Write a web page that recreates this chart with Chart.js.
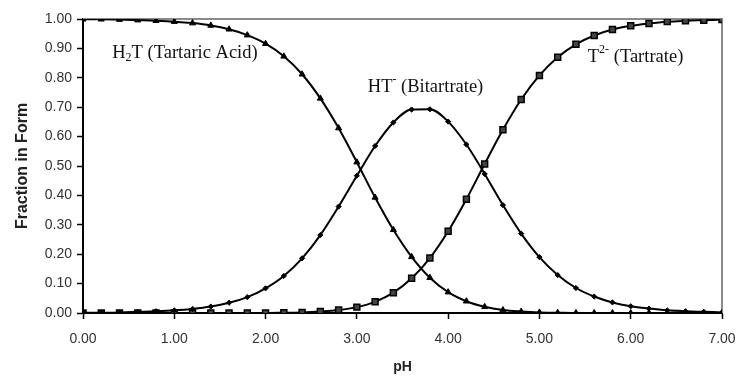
<!DOCTYPE html>
<html>
<head>
<meta charset="utf-8">
<script src="https://cdn.jsdelivr.net/npm/chart.js@4.4.0/dist/chart.umd.min.js"></script>
<style>
  html, body { margin: 0; padding: 0; background: #fff; }
  #wrap { width: 736px; height: 376px; }
</style>
</head>
<body>
<div id="wrap"><canvas id="c" width="736" height="376"></canvas></div>
<script>
// pH values (x)
const pH = [0.0,0.2,0.4,0.6,0.8,1.0,1.2,1.4,1.6,1.8,2.0,2.2,2.4,2.6,2.8,3.0,3.2,3.4,3.6,3.8,4.0,4.2,4.4,4.6,4.8,5.0,5.2,5.4,5.6,5.8,6.0,6.2,6.4,6.6,6.8,7.0];
// Fraction of H2T (tartaric acid)
const h2t = [0.999,0.999,0.998,0.996,0.994,0.991,0.986,0.978,0.965,0.945,0.916,0.873,0.812,0.730,0.629,0.513,0.393,0.283,0.191,0.120,0.071,0.040,0.021,0.010,0.005,0.002,0.001,0.000,0.000,0.000,0.000,0.000,0.000,0.000,0.000,0.000];
// Fraction of HT- (bitartrate)
const htm = [0.001,0.001,0.002,0.004,0.006,0.009,0.014,0.022,0.035,0.054,0.084,0.126,0.186,0.265,0.362,0.467,0.568,0.648,0.692,0.693,0.651,0.573,0.473,0.367,0.270,0.190,0.129,0.085,0.056,0.036,0.023,0.015,0.009,0.006,0.004,0.002];
// Fraction of T2- (tartrate)
const t2m = [0.000,0.000,0.000,0.000,0.000,0.000,0.000,0.000,0.000,0.000,0.000,0.001,0.002,0.005,0.010,0.020,0.038,0.069,0.118,0.187,0.278,0.387,0.507,0.623,0.726,0.808,0.870,0.914,0.944,0.964,0.977,0.985,0.991,0.994,0.996,0.998];

// Annotation texts: main part, sub/superscript, rest
const labelParts = [
  { a: "H", s: "2", b: "T (Tartaric Acid)", sub: true },
  { a: "HT", s: "-", b: " (Bitartrate)", sub: false },
  { a: "T", s: "2-", b: " (Tartrate)", sub: false }
];
const labelAnchors = [ [0.32, 0.885], [3.12, 0.769], [5.53, 0.871] ];

function pts(ys) { return pH.map((x, i) => ({ x: x, y: ys[i] })); }

const annotPlugin = {
  id: 'annot',
  afterDatasetsDraw(chart) {
    const ctx = chart.ctx;
    const xs = chart.scales.x, ys = chart.scales.y;
    const big = '18.5px "Liberation Serif", "Times New Roman", serif';
    const small = '12px "Liberation Serif", "Times New Roman", serif';
    ctx.save();
    ctx.fillStyle = '#111';
    ctx.textBaseline = 'middle';
    ctx.textAlign = 'left';
    labelParts.forEach((p, i) => {
      let x = xs.getPixelForValue(labelAnchors[i][0]);
      const y = ys.getPixelForValue(labelAnchors[i][1]);
      ctx.font = big;
      ctx.fillText(p.a, x, y);
      x += ctx.measureText(p.a).width;
      ctx.font = small;
      ctx.fillText(p.s, x, p.sub ? y + 5 : y - 7);
      x += ctx.measureText(p.s).width;
      ctx.font = big;
      ctx.fillText(p.b, x, y);
    });
    ctx.restore();
  }
};

const framePlugin = {
  id: 'frame',
  beforeDatasetsDraw(chart) {
    const a = chart.chartArea, ctx = chart.ctx;
    ctx.save();
    ctx.strokeStyle = '#8a8a8a';
    ctx.lineWidth = 2;
    ctx.beginPath();
    ctx.moveTo(a.left, a.top);
    ctx.lineTo(a.right, a.top);
    ctx.lineTo(a.right, a.bottom);
    ctx.stroke();
    ctx.restore();
  }
};

new Chart(document.getElementById('c'), {
  type: 'line',
  data: {
    datasets: [
      { label: 'H2T', data: pts(h2t), borderColor: '#000', backgroundColor: '#000', borderWidth: 2,
        pointStyle: 'triangle', pointRadius: 3.5, pointBorderWidth: 1, cubicInterpolationMode: 'monotone' },
      { label: 'HT-', data: pts(htm), borderColor: '#000', backgroundColor: '#000', borderWidth: 2,
        pointStyle: 'rectRot', pointRadius: 2.6, pointBorderWidth: 1, cubicInterpolationMode: 'monotone' },
      { label: 'T2-', data: pts(t2m), borderColor: '#000', backgroundColor: '#444', borderWidth: 2,
        pointStyle: 'rect', pointRadius: 4.2, pointBorderWidth: 1.5, cubicInterpolationMode: 'monotone' }
    ]
  },
  options: {
    responsive: false,
    animation: false,
    devicePixelRatio: 1,
    layout: { padding: { left: 0, right: 14, top: 19, bottom: 0 } },
    plugins: { legend: { display: false }, tooltip: { enabled: false } },
    scales: {
      x: {
        type: 'linear', min: 0, max: 7,
        afterFit(s) { s.height = 63; s.paddingLeft = 0; s.paddingRight = 0; },
        border: { color: '#000', width: 2 },
        grid: { drawOnChartArea: false, color: '#000', tickLength: 6, tickWidth: 1.5 },
        ticks: { stepSize: 1, padding: 12, color: '#333', maxRotation: 0,
          font: { family: 'Arial, "Liberation Sans", sans-serif', size: 14 },
          callback: v => v.toFixed(2) },
        title: { display: true, text: 'pH', color: '#222', padding: { top: 0, bottom: 0 },
          font: { family: 'Arial, "Liberation Sans", sans-serif', size: 14, weight: 'bold' } }
      },
      y: {
        min: 0, max: 1,
        afterFit(s) { s.width = 83; },
        border: { color: '#000', width: 2 },
        grid: { drawOnChartArea: false, color: '#000', tickLength: 6, tickWidth: 1.5 },
        ticks: { stepSize: 0.1, padding: 5, color: '#333',
          font: { family: 'Arial, "Liberation Sans", sans-serif', size: 14 },
          callback: v => v.toFixed(2) },
        title: { display: true, text: 'Fraction in Form', color: '#222', padding: { top: 13, bottom: 0 },
          font: { family: 'Arial, "Liberation Sans", sans-serif', size: 16, weight: 'bold' } }
      }
    }
  },
  plugins: [framePlugin, annotPlugin]
});
</script>
</body>
</html>
